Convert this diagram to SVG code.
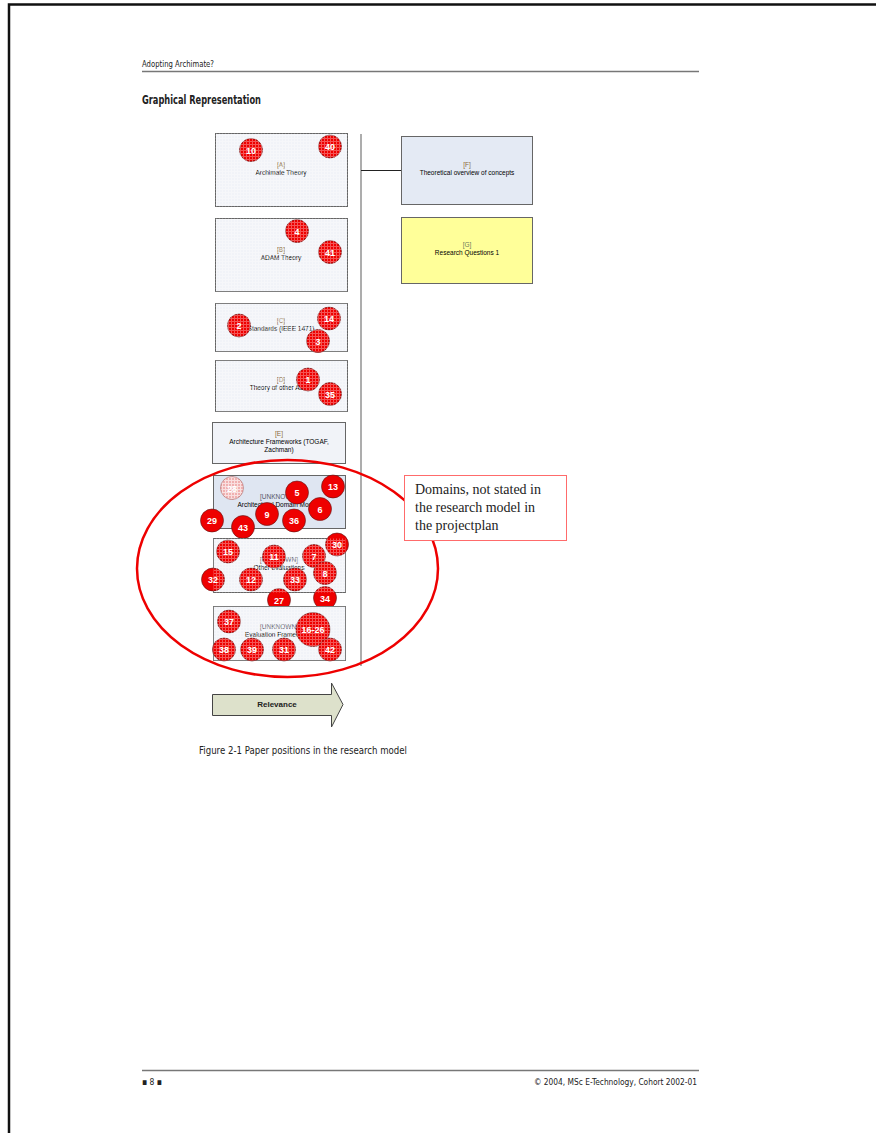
<svg xmlns="http://www.w3.org/2000/svg" width="876" height="1133" viewBox="0 0 876 1133">
  <defs>
    <!-- fine grid used as a translucent overlay on the model boxes -->
    <pattern id="grid" width="3" height="3" patternUnits="userSpaceOnUse">
      <rect x="0" y="0" width="3" height="1" fill="#ffffff" fill-opacity="0.33"/>
      <rect x="0" y="1" width="1" height="2" fill="#ffffff" fill-opacity="0.33"/>
    </pattern>
    <pattern id="pale" width="3" height="3" patternUnits="userSpaceOnUse">
      <rect width="3" height="3" fill="#f0b0b0"/>
      <rect x="0" y="0" width="3" height="1" fill="#ffffff" fill-opacity="0.6"/>
      <rect x="0" y="1" width="1" height="2" fill="#ffffff" fill-opacity="0.6"/>
    </pattern>
  </defs>
  <style>
    .page { fill: none; stroke: #111; stroke-width: 2.5; }
    .rule { stroke: #777; stroke-width: 1.5; }
    .cond { font-family: "DejaVu Sans", "Liberation Sans", sans-serif; fill: #222; }
    .box { fill: #f1f3f8; stroke: #666; stroke-width: 1; }
    .boxblue { fill: #dfe6f2; stroke: #666; stroke-width: 1; }
    .overlay { fill: url(#grid); stroke: none; }
    .lbl { font-family: "Liberation Sans", Arial, sans-serif; font-size: 6.5px; fill: #000; text-anchor: middle; }
    .tag { fill: #8a6a3a; }
    .unk { fill: #556; }
    .dot { fill: #ee0000; stroke: #5a1a1a; stroke-width: 0.6; }
    .num { font-family: "Liberation Sans", Arial, sans-serif; font-size: 9px; font-weight: bold; fill: #fff; text-anchor: middle; }
    .conn { stroke: #222; stroke-width: 1; fill: none; }
    .axis { stroke: #999; stroke-width: 1.6; fill: none; }
  </style>

  <rect id="page" x="9" y="4.5" width="880" height="1140" class="page"/>

  <!-- page header -->
  <g id="header">
    <text class="cond" x="142" y="67" font-size="9" textLength="72" lengthAdjust="spacingAndGlyphs">Adopting Archimate?</text>
    <line class="rule" x1="142" y1="71.5" x2="699" y2="71.5"/>
    <text class="cond" x="142" y="104" font-size="11.5" font-weight="bold" textLength="119" lengthAdjust="spacingAndGlyphs" fill="#111">Graphical Representation</text>
  </g>

  <!-- connectors -->
  <g id="connectors">
    <line class="axis" x1="361" y1="134" x2="361" y2="666"/>
    <line class="conn" x1="361" y1="170.5" x2="401" y2="170.5"/>
  </g>

  <g id="nodeA">
    <rect class="box" x="215.5" y="133.5" width="132" height="73"/>
    <text class="lbl" x="281" y="167"><tspan class="tag">[A]</tspan><tspan x="281" dy="7.5">Archimate Theory</tspan></text>
    <circle class="dot" cx="251" cy="150" r="11.5"/>
    <circle class="dot" cx="330" cy="146.5" r="11.5"/>
    <rect class="overlay" x="215.5" y="133.5" width="132" height="73"/>
    <text class="num" x="251" y="153.5">10</text>
    <text class="num" x="330" y="150">40</text>
  </g>

  <g id="nodeB">
    <rect class="box" x="215.5" y="218.5" width="132" height="73"/>
    <text class="lbl" x="281" y="252"><tspan class="tag">[B]</tspan><tspan x="281" dy="7.5">ADAM Theory</tspan></text>
    <circle class="dot" cx="297" cy="231" r="11.5"/>
    <circle class="dot" cx="330" cy="252" r="11.5"/>
    <rect class="overlay" x="215.5" y="218.5" width="132" height="73"/>
    <text class="num" x="297" y="234.5">4</text>
    <text class="num" x="330" y="255.5">41</text>
  </g>

  <g id="nodeC">
    <rect class="box" x="215.5" y="303.5" width="132" height="48"/>
    <text class="lbl" x="281" y="323"><tspan class="tag">[C]</tspan><tspan x="281" dy="7.5">Standards (IEEE 1471)</tspan></text>
    <circle class="dot" cx="239" cy="325.5" r="11.5"/>
    <circle class="dot" cx="329" cy="318.5" r="11.5"/>
    <circle class="dot" cx="318" cy="341" r="11.5"/>
    <rect class="overlay" x="215.5" y="303.5" width="132" height="48"/>
    <text class="num" x="239" y="329">2</text>
    <text class="num" x="329" y="322">14</text>
    <text class="num" x="318" y="344.5">3</text>
  </g>

  <g id="nodeD">
    <rect class="box" x="215.5" y="360.5" width="132" height="51"/>
    <text class="lbl" x="281" y="382"><tspan class="tag">[D]</tspan><tspan x="281" dy="7.5">Theory of other ADL's</tspan></text>
    <circle class="dot" cx="308" cy="379.5" r="11.5"/>
    <circle class="dot" cx="330" cy="394" r="11.5"/>
    <rect class="overlay" x="215.5" y="360.5" width="132" height="51"/>
    <text class="num" x="308" y="383">1</text>
    <text class="num" x="330" y="397.5">35</text>
  </g>

  <g id="nodeE">
    <rect class="box" x="212.5" y="422.5" width="133" height="41"/>
    <text class="lbl" x="279" y="436"><tspan class="tag">[E]</tspan><tspan x="279" dy="7.5">Architecture Frameworks (TOGAF,</tspan><tspan x="279" dy="8">Zachman)</tspan></text>
  </g>

  <g id="nodeF">
    <rect x="401.5" y="136.5" width="131" height="68" fill="#e4eaf4" stroke="#666" stroke-width="1"/>
    <text class="lbl" x="467" y="167"><tspan class="tag">[F]</tspan><tspan x="467" dy="7.5">Theoretical overview of concepts</tspan></text>
  </g>

  <g id="nodeG">
    <rect x="401.5" y="217.5" width="131" height="66" fill="#ffff99" stroke="#666" stroke-width="1"/>
    <text class="lbl" x="467" y="247"><tspan fill="#6a7a5a">[G]</tspan><tspan x="467" dy="7.5">Research Questions 1</tspan></text>
  </g>

  <g id="unknown1">
    <rect class="boxblue" x="213.5" y="475.5" width="132" height="53"/>
    <text class="lbl" x="279" y="499"><tspan class="unk">[UNKNOWN]</tspan><tspan x="279" dy="7.5">Architectural Domain Models</tspan></text>
    <circle cx="232" cy="488" r="11.5" fill="url(#pale)" stroke="#a66" stroke-width="0.6"/><text class="num" x="232" y="491.5">28</text>
    <circle class="dot" cx="297" cy="492.5" r="11.5"/><text class="num" x="297" y="496">5</text>
    <circle class="dot" cx="333" cy="486.5" r="11.5"/><text class="num" x="333" y="490">13</text>
    <circle class="dot" cx="320" cy="509" r="11.5"/><text class="num" x="320" y="512.5">6</text>
    <circle class="dot" cx="267" cy="514" r="11.5"/><text class="num" x="267" y="517.5">9</text>
    <circle class="dot" cx="294" cy="520.5" r="11.5"/><text class="num" x="294" y="524">36</text>
    <circle class="dot" cx="243" cy="527" r="11.5"/><text class="num" x="243" y="530.5">43</text>
    <circle class="dot" cx="212" cy="520.5" r="11.5"/><text class="num" x="212" y="524">29</text>
  </g>

  <g id="unknown2">
    <rect class="box" x="213.5" y="538.5" width="132" height="54"/>
    <text class="lbl" x="279" y="562"><tspan class="unk">[UNKNOWN]</tspan><tspan x="279" dy="7.5">Other evaluations</tspan></text>
    <circle class="dot" cx="228" cy="551.5" r="11.5"/>
    <circle class="dot" cx="274" cy="556.5" r="11.5"/>
    <circle class="dot" cx="314" cy="556" r="11.5"/>
    <circle class="dot" cx="337" cy="544.5" r="11.5"/>
    <circle class="dot" cx="325" cy="573" r="11.5"/>
    <circle class="dot" cx="213" cy="579.5" r="11.5"/>
    <circle class="dot" cx="251" cy="579.5" r="11.5"/>
    <circle class="dot" cx="295" cy="579.5" r="11.5"/>
    <circle class="dot" cx="279" cy="600" r="11.5"/>
    <circle class="dot" cx="325" cy="598" r="11.5"/>
    <rect class="overlay" x="213.5" y="538.5" width="132" height="54"/>
    <text class="num" x="228" y="555">15</text>
    <text class="num" x="274" y="560">11</text>
    <text class="num" x="314" y="559.5">7</text>
    <text class="num" x="337" y="548">30</text>
    <text class="num" x="325" y="576.5">8</text>
    <text class="num" x="213" y="583">32</text>
    <text class="num" x="251" y="583">12</text>
    <text class="num" x="295" y="583">33</text>
  </g>

  <g id="unknown3">
    <rect class="box" x="213.5" y="606.5" width="132" height="54"/>
    <text class="lbl" x="279" y="629"><tspan class="unk">[UNKNOWN]</tspan><tspan x="279" dy="7.5">Evaluation Frameworks</tspan></text>
    <circle class="dot" cx="229" cy="621.5" r="11.5"/>
    <circle class="dot" cx="313" cy="629.5" r="17"/>
    <circle class="dot" cx="224" cy="649.5" r="11.5"/>
    <circle class="dot" cx="252" cy="649.5" r="11.5"/>
    <circle class="dot" cx="284" cy="649.5" r="11.5"/>
    <circle class="dot" cx="330" cy="649.5" r="11.5"/>
    <rect class="overlay" x="213.5" y="606.5" width="132" height="54"/>
    <text class="num" x="279" y="603.5">27</text>
    <text class="num" x="325" y="601.5">34</text>
    <text class="num" x="229" y="625">37</text>
    <text class="num" x="313" y="633">16-26</text>
    <text class="num" x="224" y="653">38</text>
    <text class="num" x="252" y="653">39</text>
    <text class="num" x="284" y="653">31</text>
    <text class="num" x="330" y="653">42</text>
  </g>

  <!-- grouping of the domains outside the research model -->
  <g id="domains">
    <ellipse cx="287.5" cy="568.5" rx="150.5" ry="108.5" fill="none" stroke="#ee0000" stroke-width="2.5"/>
  </g>

  <g id="callout">
    <rect x="404.5" y="475.5" width="162" height="65" fill="#ffffff" stroke="#ff6b6b" stroke-width="1"/>
    <text font-family="'Liberation Serif', 'Times New Roman', serif" font-size="14" fill="#222">
      <tspan x="415" y="494">Domains, not stated in</tspan>
      <tspan x="415" y="512">the research model in</tspan>
      <tspan x="415" y="530">the projectplan</tspan>
    </text>
  </g>

  <g id="relevance">
    <path d="M212.5 694.5 H331.5 V683 L343 704.5 L331.5 727 V715.5 H212.5 Z" fill="#dde1cb" stroke="#444" stroke-width="1"/>
    <text x="277" y="706.5" font-family="'Liberation Sans', Arial, sans-serif" font-size="8" font-weight="bold" fill="#222" text-anchor="middle">Relevance</text>
  </g>

  <text class="cond" x="199" y="754" font-size="11" textLength="208" lengthAdjust="spacingAndGlyphs" fill="#333">Figure 2-1 Paper positions in the research model</text>

  <!-- page footer -->
  <g id="footer">
    <line class="rule" x1="142" y1="1070.5" x2="699" y2="1070.5"/>
    <text class="cond" x="142" y="1085" font-size="9.5" textLength="20" lengthAdjust="spacingAndGlyphs">▪ 8 ▪</text>
    <text class="cond" x="534" y="1085" font-size="9.5" textLength="163" lengthAdjust="spacingAndGlyphs">© 2004, MSc E-Technology, Cohort 2002-01</text>
  </g>
</svg>
